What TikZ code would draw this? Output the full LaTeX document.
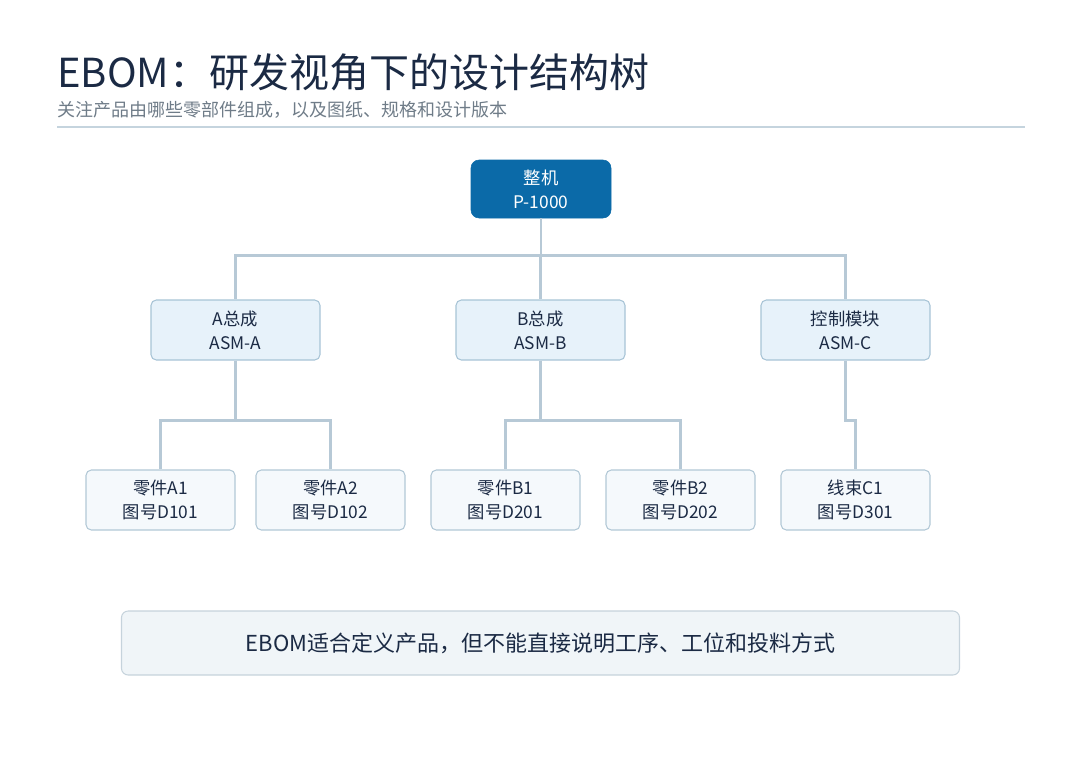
\documentclass[tikz,border=0pt]{standalone}
\usepackage{fontspec}
\setmainfont{Noto Sans CJK SC}
\usetikzlibrary{positioning}
\definecolor{titleink}{HTML}{1B2A44}
\definecolor{subink}{HTML}{6F7C88}
\definecolor{rootfill}{HTML}{0B6AA8}
\definecolor{midfill}{HTML}{E7F2FA}
\definecolor{midline}{HTML}{A8C4D6}
\definecolor{leaffill}{HTML}{F5F9FC}
\definecolor{leafline}{HTML}{B2C8D6}
\definecolor{wire}{HTML}{B7C9D6}
\definecolor{notefill}{HTML}{F0F5F8}
\definecolor{noteline}{HTML}{C6D3DC}
\begin{document}
\begin{tikzpicture}[x=0.75pt,y=-0.75pt]
        \tikzset{root style/.style={draw=rootfill, fill=rootfill, text=white, rounded corners=6pt, minimum width=105pt, minimum height=43.5pt, align=center, font=\fontsize{13}{18}\selectfont}}
        \tikzset{mid style/.style={draw=midline, fill=midfill, thick, rounded corners=4pt, minimum width=126.75pt, minimum height=45pt, align=center, text=titleink, font=\fontsize{13}{18}\selectfont}}
        \tikzset{leaf style/.style={draw=leafline, fill=leaffill, thick, rounded corners=4pt, minimum width=111.75pt, minimum height=45pt, align=center, text=titleink, font=\fontsize{13}{18}\selectfont}}
        \tikzset{wire style/.style={draw=wire, line width=2pt}}

        \useasboundingbox (0,0) rectangle (1080,760);

        \node[anchor=base west, text=titleink, font=\fontsize{30}{32}\selectfont, inner sep=0] (title) at (57,87) {EBOM：研发视角下的设计结构树};
        \node[anchor=base west, text=subink, font=\fontsize{13.5}{15}\selectfont, inner sep=0] (sub) at (57,116) {关注产品由哪些零部件组成，以及图纸、规格和设计版本};
        \draw[draw=wire!80, line width=1pt] (57,127) -- (1025,127);

        \node[root style] (root) at (541,189) {整机\\P-1000};

        \node[mid style] (asmA) at (235.5,330) {A总成\\ASM-A};
        \node[mid style] (asmB) at (540.5,330) {B总成\\ASM-B};
        \node[mid style] (asmC) at (845.5,330) {控制模块\\ASM-C};

        \node[leaf style] (a1) at (160.5,500) {零件A1\\图号D101};
        \node[leaf style] (a2) at (330.5,500) {零件A2\\图号D102};
        \node[leaf style] (b1) at (505.5,500) {零件B1\\图号D201};
        \node[leaf style] (b2) at (680.5,500) {零件B2\\图号D202};
        \node[leaf style] (c1) at (855.5,500) {线束C1\\图号D301};

        % connectors
        \draw[wire style] (root.south) -- ++(0,37) -| (asmA.north);
        \draw[wire style] (root.south) -- ++(0,37) -| (asmB.north);
        \draw[wire style] (root.south) -- ++(0,37) -| (asmC.north);
        \draw[wire style] (asmA.south) -- ++(0,60) -| (a1.north);
        \draw[wire style] (asmA.south) -- ++(0,60) -| (a2.north);
        \draw[wire style] (asmB.south) -- ++(0,60) -| (b1.north);
        \draw[wire style] (asmB.south) -- ++(0,60) -| (b2.north);
        \draw[wire style] (asmC.south) -- ++(0,60) -| (c1.north);

        \node[draw=noteline, fill=notefill, thick, rounded corners=5pt, minimum width=628.5pt, minimum height=48pt, text=titleink, font=\fontsize{16.5}{18}\selectfont] (note) at (540.5,643) {EBOM适合定义产品，但不能直接说明工序、工位和投料方式};
\end{tikzpicture}
\end{document}
